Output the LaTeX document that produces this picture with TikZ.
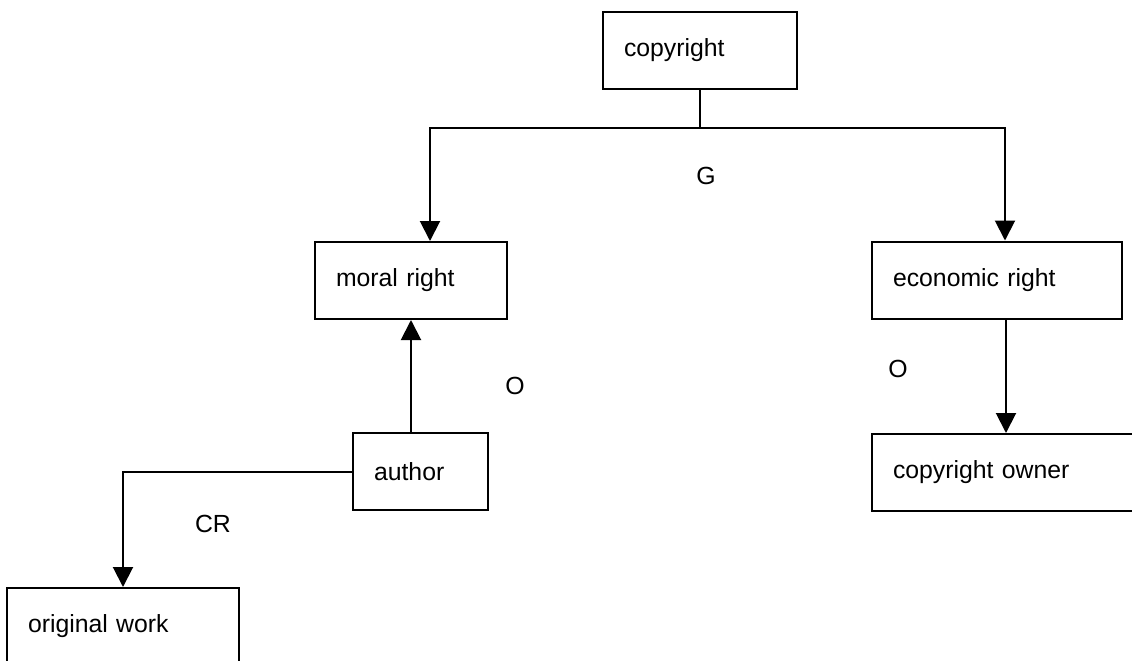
\documentclass[tikz,border=0pt]{standalone}
\usepackage{fontspec}
\setmainfont{Liberation Sans}
\usepackage{tikz}
\usetikzlibrary{arrows.meta}

\begin{document}
\begin{tikzpicture}[x=0.5pt, y=-0.5pt,
  box/.style={draw, line width=1pt, minimum height=38.5pt, inner xsep=10.5pt, align=left},
  arr/.style={line width=1pt, -{Triangle[length=10pt, width=10pt]}},
  lbl/.style={inner sep=0pt}]
\useasboundingbox (0, 0) rectangle (1132, 660);
\fontsize{12.4}{15}\selectfont

% boxes
\node[box, text width=76pt] (copyright) at (700, 50) {copyright};
\node[box, text width=75pt] (moral) at (411, 280.5) {moral right};
\node[box, text width=104pt] (econ) at (997, 280) {economic right};
\node[box, text width=46.5pt] (author) at (420.5, 471.5) {author};
\node[box, text width=113pt] (owner) at (1006, 472.5) {copyright owner};
\node[box, text width=95pt] (orig) at (123, 626.5) {original work};

% labels
\node[lbl] (g) at (706, 176) {G};
\node[lbl] (omoral) at (515, 386) {O};
\node[lbl] (oecon) at (898, 369) {O};
\node[lbl] (cr) at (213, 524) {CR};

% arrows
\draw[line width=1pt] (copyright.south) -- ++(0, 38) coordinate (split);
\draw[arr] (split) -| ([xshift=9.5pt]moral.north);
\draw[arr] (split) -| ([xshift=4pt]econ.north);
\draw[arr] (owner.north |- econ.south) -- (owner.north);
\draw[arr] (moral.south |- author.north) -- (moral.south);
\draw[arr] (author.west) -| (orig.north);

\end{tikzpicture}
\end{document}
